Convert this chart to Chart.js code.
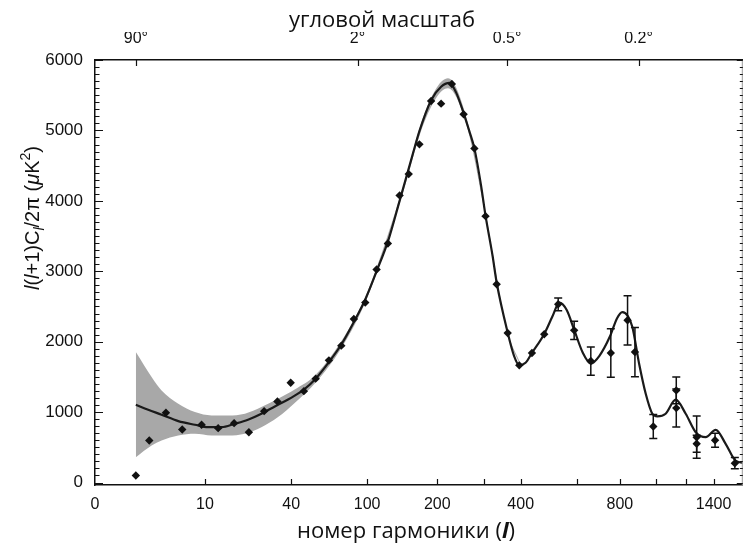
<!DOCTYPE html>
<html><head><meta charset="utf-8">
<script src="https://cdn.jsdelivr.net/npm/chart.js@4.4.0/dist/chart.umd.min.js"></script>
<style>html,body{margin:0;padding:0;background:#fff;}#wrap{width:747px;height:544px;}</style>
</head><body><div id="wrap"><canvas id="c" width="747" height="544"></canvas></div>
<script>
// ---------- DATA ----------
// theoretical model curve: multipole l and l(l+1)C_l/2pi (uK^2)
const curveL = [2, 2.81, 3.94, 5.79, 8.22, 10.6, 13.6, 17.1, 21.2, 26.1, 31.8, 38.3, 41.9, 47.3, 55, 64.7, 74.9, 86.4, 98, 110.6, 124.3, 139.9, 159, 169.5, 189, 207, 222.9, 236.3, 252, 264.8, 276.3, 292, 303, 320.8, 331.5, 361.7, 380, 395.7, 415, 435.4, 476.8, 505, 532, 560, 589.8, 625, 661, 700, 751, 785, 812.6, 840, 866, 903, 941, 980, 1010, 1062, 1127, 1195, 1266, 1340, 1417, 1497, 1580, 1643];
const curveV = [1105, 1034, 963, 872, 820, 786, 786, 835, 892, 977, 1081, 1180, 1235, 1320, 1475, 1710, 1960, 2280, 2600, 3000, 3420, 4000, 4660, 4990, 5430, 5620, 5675, 5540, 5250, 4990, 4745, 4220, 3790, 3220, 2840, 2130, 1800, 1665, 1700, 1840, 2110, 2350, 2555, 2450, 2170, 1850, 1690, 1800, 2080, 2330, 2420, 2370, 2210, 1690, 1260, 977, 940, 977, 1176, 977, 715, 644, 749, 550, 310, 280];
// cosmic variance band (upper / lower edge)
const bandL = [2, 3.07, 3.94, 5.79, 8.22, 11.34, 15.25, 20.2, 26.1, 33.3, 41.9, 55, 75, 100, 140, 180, 220, 260, 300, 360, 400];
const bandUpper = [1853, 1497, 1308, 1119, 1000, 953, 953, 977, 1071, 1190, 1320, 1530, 2010, 2700, 4040, 5290, 5740, 5140, 3930, 2170, 1680];
const bandLower = [360, 526, 597, 668, 692, 668, 668, 692, 786, 929, 1130, 1420, 1910, 2620, 3960, 5170, 5600, 5040, 3870, 2130, 1650];
// measured band powers with error bars (0 = bar hidden by marker)
const dataL = [2, 2.89, 4.37, 6.31, 9.38, 12.8, 16.9, 21.5, 27.2, 33, 39.7, 47.3, 55, 64.7, 74.9, 86.4, 98, 110.6, 124.3, 139.9, 153, 169.5, 189, 207, 227.8, 252.2, 276.3, 303, 331.5, 361.7, 395.7, 435.4, 476.8, 527.3, 589.8, 660.8, 754.4, 840, 880, 985.6, 1131, 1131, 1273, 1273, 1412, 1574];
const dataV = [100, 597, 991, 754, 820, 772, 843, 715, 1014, 1152, 1418, 1298, 1475, 1735, 1944, 2322, 2555, 3025, 3394, 4077, 4380, 4802, 5418, 5380, 5660, 5229, 4745, 3783, 2816, 2123, 1664, 1839, 2105, 2531, 2161, 1725, 1839, 2304, 1853, 796, 1308, 1057, 644, 550, 600, 274];
const dataErr = [0, 0, 0, 0, 0, 0, 0, 0, 0, 0, 0, 0, 0, 0, 0, 0, 0, 0, 0, 0, 0, 0, 0, 0, 0, 0, 0, 0, 0, 0, 0, 0, 0, 90, 130, 200, 345, 350, 350, 170, 190, 270, 300, 120, 100, 80];
// axes
const xTickValues = [0.5, 10, 40, 100, 200, 300, 400, 600, 800, 1000, 1200, 1400];
const xTickLabels = ['0', '10', '40', '100', '200', '', '400', '', '800', '', '', '1400'];
const topTickDegrees = [90, 2, 0.5, 0.2];
const topTickLabels = ['90°', '2°', '0.5°', '0.2°'];
const yTickValues = [0, 1000, 2000, 3000, 4000, 5000, 6000];
const topTitle = 'угловой масштаб';

// ---------- custom l^(1/4) axis ----------
class QuarterPowerScale extends Chart.LinearScale {
  configure() {
    super.configure();
    this._u0 = Math.pow(this.min, 0.25);
    this._u1 = Math.pow(this.max, 0.25);
  }
  getPixelForValue(value) {
    if (value === null || value === undefined || isNaN(value)) return NaN;
    return this.getPixelForDecimal((Math.pow(value, 0.25) - this._u0) / (this._u1 - this._u0));
  }
  getValueForPixel(pixel) {
    const d = this.getDecimalForPixel(pixel);
    return Math.pow(this._u0 + d * (this._u1 - this._u0), 4);
  }
}
QuarterPowerScale.id = 'quarterPower';
QuarterPowerScale.defaults = Chart.LinearScale.defaults;
Chart.register(QuarterPowerScale);

const INK = '#111';

// rich text helper (italic / sub / sup pieces)
function drawRich(ctx, pieces, size, family, cx, baseY) {
  const fontFor = p => `${p.it ? 'italic ' : ''}${p.b ? 'bold ' : ''}${(p.sub || p.sup) ? Math.round(size * 0.7) : size}px ${family}`;
  let w = 0;
  pieces.forEach(p => { ctx.font = fontFor(p); p._w = ctx.measureText(p.t).width; w += p._w; });
  let x = cx - w / 2;
  ctx.textAlign = 'left'; ctx.textBaseline = 'alphabetic';
  pieces.forEach(p => {
    ctx.font = fontFor(p);
    const dy = p.sub ? size * 0.25 : (p.sup ? -size * 0.42 : 0);
    ctx.fillText(p.t, x, baseY + dy);
    x += p._w;
  });
}

const titlesPlugin = {
  id: 'richTitles',
  afterDraw(chart) {
    const ctx = chart.ctx;
    ctx.save();
    ctx.fillStyle = INK;
    // y title (rotated)
    ctx.save();
    ctx.translate(38.5, 218);
    ctx.rotate(-Math.PI / 2);
    drawRich(ctx, [{t: 'l', it: true}, {t: '('}, {t: 'l', it: true}, {t: '+1)C'}, {t: 'l', it: true, sub: true},
      {t: '/2π ('}, {t: 'μ', it: true}, {t: 'K'}, {t: '2', sup: true}, {t: ')'}], 20, '"Liberation Sans", Arial, sans-serif', 0, 0);
    ctx.restore();
    // x title
    drawRich(ctx, [{t: 'номер гармоники ('}, {t: 'l', it: true, b: true}, {t: ')'}], 22, '"Open Sans", sans-serif', 406, 538);
    ctx.restore();
  }
};

const marksPlugin = {
  id: 'axisMarks',
  afterDatasetsDraw(chart) {
    const {ctx, chartArea: a, scales} = chart;
    ctx.save();
    // error bars
    ctx.strokeStyle = INK; ctx.lineWidth = 1.5;
    dataL.forEach((l, i) => {
      if (!dataErr[i]) return;
      const x = scales.x.getPixelForValue(l);
      const y1 = scales.y.getPixelForValue(dataV[i] + dataErr[i]);
      const y2 = scales.y.getPixelForValue(dataV[i] - dataErr[i]);
      ctx.beginPath();
      ctx.moveTo(x, y1); ctx.lineTo(x, y2);
      ctx.moveTo(x - 4, y1); ctx.lineTo(x + 4, y1);
      ctx.moveTo(x - 4, y2); ctx.lineTo(x + 4, y2);
      ctx.stroke();
    });
    // right frame
    ctx.strokeStyle = '#9a9a9a'; ctx.lineWidth = 1;
    ctx.beginPath(); ctx.moveTo(a.right - 0.5, a.top); ctx.lineTo(a.right - 0.5, a.bottom); ctx.stroke();
    // y ticks (left and right, inside)
    ctx.strokeStyle = INK; ctx.lineWidth = 1.2;
    ctx.beginPath();
    for (let v = 0; v <= 6000; v += 100) {
      const y = Math.round(scales.y.getPixelForValue(v)) + 0.5;
      const major = yTickValues.includes(v);
      ctx.moveTo(a.left, y); ctx.lineTo(a.left + (major ? 8 : 4.5), y);
      ctx.moveTo(a.right, y); ctx.lineTo(a.right - (major ? 6 : 3), y);
    }
    // bottom ticks
    xTickValues.slice(1).forEach(v => {
      const x = Math.round(scales.x.getPixelForValue(v)) + 0.5;
      ctx.moveTo(x, a.bottom); ctx.lineTo(x, a.bottom - 6);
    });
    // top ticks
    topTickDegrees.forEach(d => {
      const x = Math.round(scales.xTop.getPixelForValue(180 / d)) + 0.5;
      ctx.moveTo(x, a.top); ctx.lineTo(x, a.top + 6);
    });
    ctx.stroke();
    ctx.restore();
  }
};

const pts = (xs, ys) => xs.map((x, i) => ({x: x, y: ys[i]}));

new Chart(document.getElementById('c'), {
  type: 'line',
  data: {
    datasets: [
      {label: 'данные', data: pts(dataL, dataV), showLine: false, order: 0,
        pointStyle: 'rectRot', pointRadius: 4.2, pointBackgroundColor: INK, pointBorderWidth: 0},
      {label: 'модель', data: pts(curveL, curveV), order: 1, borderColor: '#1a1a1a', borderWidth: 2.2,
        pointRadius: 0, cubicInterpolationMode: 'monotone', fill: false},
      {label: 'band+', data: pts(bandL, bandUpper), order: 2, borderWidth: 0, borderColor: 'rgba(0,0,0,0)',
        pointRadius: 0, cubicInterpolationMode: 'monotone', fill: false},
      {label: 'band-', data: pts(bandL, bandLower), order: 3, borderWidth: 0, borderColor: 'rgba(0,0,0,0)',
        pointRadius: 0, cubicInterpolationMode: 'monotone', fill: '-1', backgroundColor: 'rgb(168,168,168)'}
    ]
  },
  options: {
    responsive: false, animation: false, devicePixelRatio: 1,
    layout: {padding: {left: 20, right: 3, top: 0, bottom: 0}},
    plugins: {
      legend: {display: false}, tooltip: {enabled: false},
      title: {display: true, text: topTitle, color: INK,
        font: {family: '"Open Sans", sans-serif', size: 22, weight: 'normal', lineHeight: 1},
        padding: {top: 10, bottom: 0}}
    },
    scales: {
      x: {type: 'quarterPower', position: 'bottom', min: 0.5, max: 1643, bounds: 'data',
        afterBuildTicks: s => { s.ticks = xTickValues.map(v => ({value: v})); },
        afterFit: s => { s.height = 59; },
        ticks: {autoSkip: false, maxRotation: 0, padding: 10, color: INK,
          font: {family: '"Liberation Sans Narrow", "Liberation Sans", sans-serif', size: 16},
          callback: (v, i) => xTickLabels[i]},
        grid: {display: false, drawTicks: false},
        border: {display: true, color: INK, width: 1.5}},
      xTop: {type: 'quarterPower', position: 'top', min: 0.5, max: 1643, bounds: 'data',
        afterBuildTicks: s => { s.ticks = topTickDegrees.map(d => ({value: 180 / d})); },
        afterFit: s => { s.height = 28; },
        ticks: {autoSkip: false, maxRotation: 0, padding: 13, color: INK,
          font: {family: '"Liberation Sans", sans-serif', size: 16, lineHeight: 1},
          callback: (v, i) => topTickLabels[i]},
        grid: {display: false, drawTicks: false},
        border: {display: true, color: INK, width: 1.5}},
      y: {type: 'linear', position: 'left', min: -35, max: 6000, bounds: 'data',
        afterBuildTicks: s => { s.ticks = yTickValues.map(v => ({value: v})); },
        afterFit: s => { s.width = 75; },
        ticks: {padding: 12, color: INK, font: {family: '"Liberation Sans", sans-serif', size: 17},
          callback: v => String(v)},
        grid: {display: false, drawTicks: false},
        border: {display: true, color: INK, width: 1.5}}
    }
  },
  plugins: [marksPlugin, titlesPlugin]
});
</script></body></html>
